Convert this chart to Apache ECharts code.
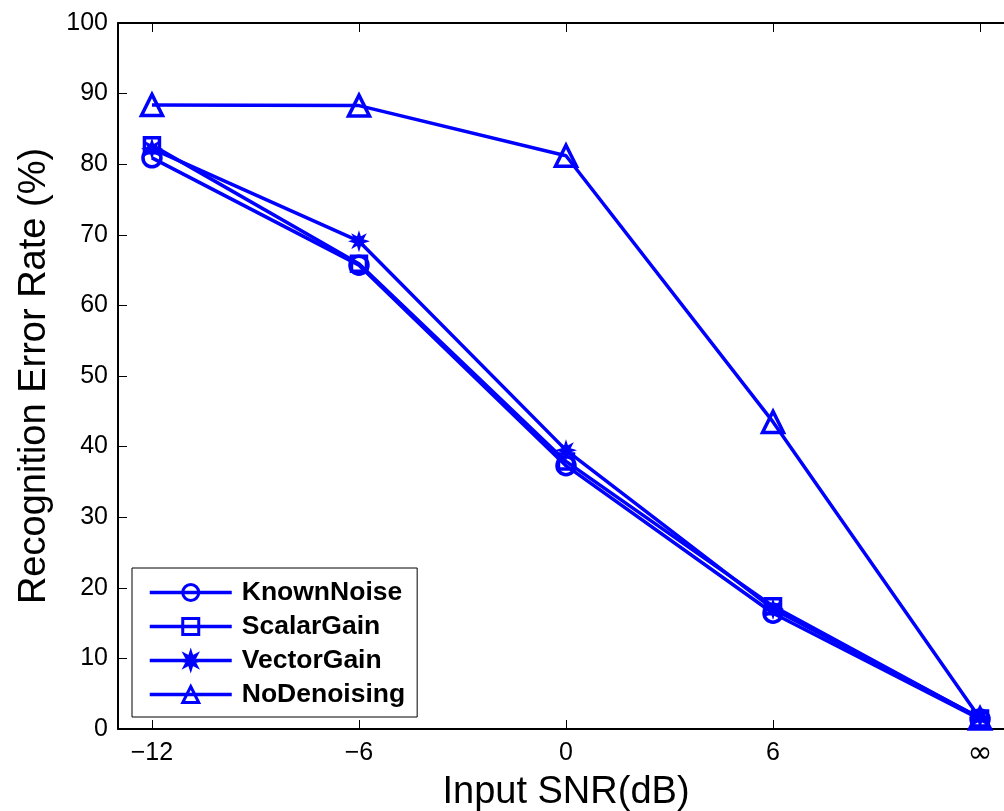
<!DOCTYPE html>
<html>
<head>
<meta charset="utf-8">
<script src="https://cdn.jsdelivr.net/npm/echarts@6/dist/echarts.min.js"></script>
<style>
html,body{margin:0;padding:0;background:#fff;overflow:hidden;width:1004px;height:811px;}
#chart{width:1030px;height:811px;}
</style>
</head>
<body>
<div id="chart"></div>
<script>
// Data
const categories = ['\u221212', '\u22126', '0', '6', '\u221e'];
const seriesNames = ['KnownNoise', 'ScalarGain', 'VectorGain', 'NoDenoising'];
const knownNoise = [80.9, 65.7, 37.3, 16.4, 1.4];
const scalarGain = [82.7, 65.9, 37.9, 17.4, 1.5];
const vectorGain = [82.2, 69.1, 39.5, 17.0, 1.6];
const noDenoising = [88.4, 88.3, 81.2, 43.5, 1.5];
const yTicks = [0, 10, 20, 30, 40, 50, 60, 70, 80, 90, 100];

const BLUE = '#0000ff';
const FONT = '"Liberation Sans", Arial, sans-serif';
const starPath = 'path://M0,-10L1.8,-4.3L7.07,-7.07L4.3,-1.8L10,0L4.3,1.8L7.07,7.07L1.8,4.3L0,10L-1.8,4.3L-7.07,7.07L-4.3,1.8L-10,0L-4.3,-1.8L-7.07,-7.07L-1.8,-4.3Z';

const idx = categories.map((_, i) => i);
function pts(arr) { return arr.map((v, i) => [i, v]); }

function mkSeries(name, data, symbol, size, filled) {
  return {
    name: name,
    type: 'line',
    data: pts(data),
    symbol: symbol,
    symbolSize: size,
    showAllSymbol: true,
    lineStyle: { color: BLUE, width: 3.5 },
    itemStyle: filled
      ? { color: BLUE, borderColor: BLUE, borderWidth: 1.5 }
      : { color: 'rgba(0,0,0,0)', borderColor: BLUE, borderWidth: 3.5 },
    emphasis: { disabled: true },
    animation: false
  };
}

const chart = echarts.init(document.getElementById('chart'), null, { renderer: 'canvas' });
const xMin = -0.164, xMax = 4.164;
const axisLineStyle = { color: '#000', width: 2 };

chart.setOption({
  backgroundColor: '#fff',
  animation: false,
  grid: { left: 118, top: 23, width: 896, height: 706, containLabel: false, outerBoundsMode: 'none' },
  legend: {
    orient: 'vertical',
    left: 132,
    top: 568,
    data: seriesNames,
    itemWidth: 82,
    itemHeight: 20,
    itemGap: 7,
    padding: [11, 12, 9, 16],
    borderColor: '#000',
    borderWidth: 1,
    backgroundColor: '#fff',
    selectedMode: false,
    lineStyle: { width: 3.5 },
    itemStyle: { borderWidth: 3 },
    textStyle: { fontFamily: FONT, fontSize: 26.5, fontWeight: 'bold', color: '#000', lineHeight: 25, padding: [0, 0, 0, 5] }
  },
  xAxis: [{
    type: 'value',
    min: xMin, max: xMax,
    position: 'bottom',
    name: 'Input SNR(dB)',
    nameLocation: 'middle',
    nameGap: 36,
    nameTextStyle: { fontFamily: FONT, fontSize: 38, color: '#000' },
    axisLine: { show: true, onZero: false, lineStyle: axisLineStyle },
    axisTick: { show: true, inside: true, length: 9, customValues: idx, lineStyle: { color: '#000', width: 1 } },
    axisLabel: { show: true, customValues: idx, margin: 12, fontFamily: FONT, fontSize: 25, color: '#000',
      formatter: v => { const i = Math.round(v); return i === 4 ? '{inf|' + categories[i] + '}' : categories[i]; },
      rich: { inf: { fontFamily: '"DejaVu Sans", sans-serif', fontSize: 30, lineHeight: 26, color: '#000' } } },
    splitLine: { show: false }
  }, {
    type: 'value',
    min: xMin, max: xMax,
    position: 'top',
    axisLine: { show: true, onZero: false, lineStyle: axisLineStyle },
    axisTick: { show: true, inside: true, length: 9, customValues: idx, lineStyle: { color: '#000', width: 1 } },
    axisLabel: { show: false },
    splitLine: { show: false }
  }],
  yAxis: [{
    type: 'value',
    min: 0, max: 100, interval: 10,
    position: 'left',
    name: 'Recognition Error Rate (%)',
    nameLocation: 'middle',
    nameGap: 64,
    nameTextStyle: { fontFamily: FONT, fontSize: 38, color: '#000' },
    axisLine: { show: true, onZero: false, lineStyle: axisLineStyle },
    axisTick: { show: true, inside: true, length: 9, lineStyle: { color: '#000', width: 1 } },
    axisLabel: { margin: 10, fontFamily: FONT, fontSize: 25, color: '#000',
      formatter: v => yTicks.indexOf(v) >= 0 ? String(v) : '' },
    splitLine: { show: false }
  }, {
    type: 'value',
    min: 0, max: 100, interval: 10,
    position: 'right',
    axisLine: { show: true, onZero: false, lineStyle: axisLineStyle },
    axisTick: { show: true, inside: true, length: 9, lineStyle: { color: '#000', width: 1 } },
    axisLabel: { show: false },
    splitLine: { show: false }
  }],
  series: [
    mkSeries(seriesNames[0], knownNoise, 'circle', 18, false),
    mkSeries(seriesNames[1], scalarGain, 'rect', 15, false),
    mkSeries(seriesNames[2], vectorGain, starPath, 17, true),
    mkSeries(seriesNames[3], noDenoising, 'triangle', 21, false)
  ]
});
</script>
</body>
</html>
